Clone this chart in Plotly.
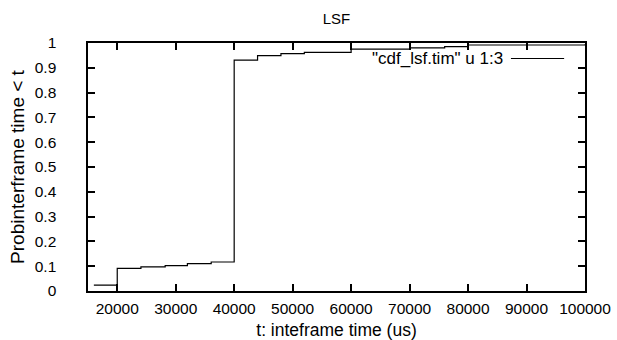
import plotly.graph_objects as go

t_us = [16000, 20000, 24050, 28200, 32000, 36070, 40000, 44000, 48000, 52000,
        60000, 70000, 76000, 80000, 100000]
prob = [0.024, 0.091, 0.097, 0.102, 0.110, 0.117, 0.931, 0.949, 0.957, 0.962,
        0.975, 0.980, 0.985, 0.992, 0.995]

font_family = "Liberation Sans, Arial, sans-serif"

fig = go.Figure()
fig.add_trace(go.Scatter(x=t_us, y=prob, mode="lines", line_shape="hv",
                         line=dict(color="black", width=1.2),
                         name='"cdf_lsf.tim" u 1:3', showlegend=False,
                         hoverinfo="skip"))

axis_common = dict(showline=True, linecolor="black", linewidth=2, mirror="allticks",
                   ticks="inside", ticklen=7, tickwidth=1.5, tickcolor="black",
                   showgrid=False, zeroline=False, automargin=False,
                   tickfont=dict(family=font_family, size=15.5, color="black"))

fig.update_layout(
    width=617, height=340,
    margin=dict(l=88, r=32, t=43, b=49),
    plot_bgcolor="white", paper_bgcolor="white",
    font=dict(family=font_family, size=16, color="black"),
    title=dict(text="LSF", x=0.5, xref="paper", xanchor="center",
               y=1 - 19 / 340, yref="container", yanchor="middle",
               font=dict(family=font_family, size=15, color="black")),
    xaxis=dict(range=[15000, 100000], dtick=10000, tick0=0, tickformat="d",
               ticklabelstandoff=2,
               title=dict(text="t: inteframe time (us)", standoff=8,
                          font=dict(family=font_family, size=17.5)),
               **axis_common),
    yaxis=dict(range=[0, 1], dtick=0.1, tick0=0,
               ticklabelstandoff=18, ticksuffix="\u00a0\u00a0",
               title=dict(text="Probinterframe time < t", standoff=5,
                          font=dict(family=font_family, size=19)),
               **axis_common),
    showlegend=False,
)

fig.add_annotation(xref="paper", yref="paper", x=0.839, y=0.9375,
                   text='"cdf_lsf.tim" u 1:3', showarrow=False,
                   xanchor="right", yanchor="middle",
                   font=dict(family=font_family, size=17, color="black"))
fig.add_shape(type="line", xref="paper", yref="paper",
              x0=0.851, x1=0.958, y0=0.9375, y1=0.9375,
              line=dict(color="black", width=1.2))

fig.write_html("out.html", config={"displayModeBar": False},
               post_script="document.body.style.margin='0';document.body.style.overflow='hidden';")
